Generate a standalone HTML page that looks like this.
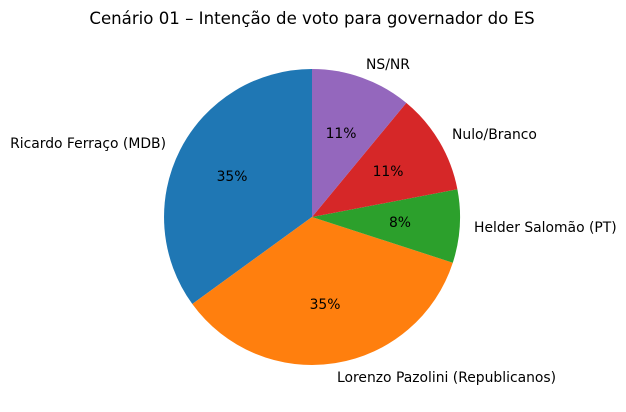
<!DOCTYPE html>
<html><head><meta charset="utf-8"><style>
html,body{margin:0;padding:0;background:#fff;}
svg{display:block;font-family:"DejaVu Sans","Liberation Sans",sans-serif;}
</style></head><body>
<svg width="626" height="412" viewBox="0 0 626 412" xmlns="http://www.w3.org/2000/svg">
<rect width="626" height="412" fill="#fff"/>
<text x="312" y="24" font-size="16.6" text-anchor="middle" fill="#000">Cenário 01 – Intenção de voto para governador do ES</text>
<g stroke="none">
<path d="M312,217 L312,69 A148,148 0 0,0 192.3,304 Z" fill="#1f77b4"/>
<path d="M312,217 L192.3,304 A148,148 0 0,0 452.8,262.7 Z" fill="#ff7f0e"/>
<path d="M312,217 L452.8,262.7 A148,148 0 0,0 457.4,189.3 Z" fill="#2ca02c"/>
<path d="M312,217 L457.4,189.3 A148,148 0 0,0 406.3,102.9 Z" fill="#d62728"/>
<path d="M312,217 L406.3,102.9 A148,148 0 0,0 312,69 Z" fill="#9467bd"/>
</g>
<g font-size="13.9" fill="#000">
<text x="166" y="148" text-anchor="end">Ricardo Ferraço (MDB)</text>
<text x="337" y="382" text-anchor="start">Lorenzo Pazolini (Republicanos)</text>
<text x="474" y="232" text-anchor="start">Helder Salomão (PT)</text>
<text x="452" y="139" text-anchor="start">Nulo/Branco</text>
<text x="388" y="69" text-anchor="middle">NS/NR</text>
<text x="232" y="181" text-anchor="middle">35%</text>
<text x="325" y="309" text-anchor="middle">35%</text>
<text x="400" y="227" text-anchor="middle">8%</text>
<text x="388" y="176" text-anchor="middle">11%</text>
<text x="341" y="138" text-anchor="middle">11%</text>
</g>
</svg>
</body></html>
